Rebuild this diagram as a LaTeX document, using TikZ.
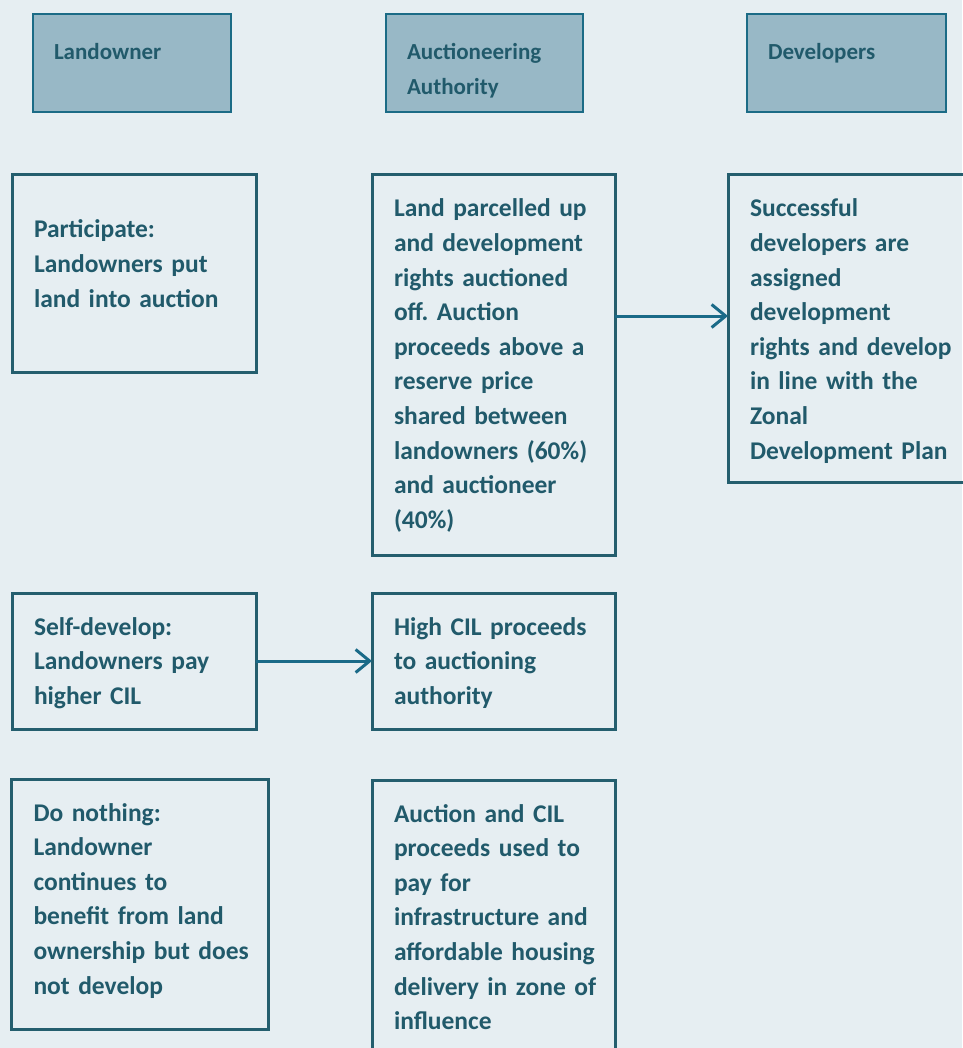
\documentclass[tikz,border=0pt]{standalone}
\usepackage{fontspec}
\setmainfont{Carlito}
\usepackage{xcolor}
\usetikzlibrary{arrows.meta}

\definecolor{bgblue}{HTML}{E6EEF2}
\definecolor{headfill}{HTML}{98B8C6}
\definecolor{headline}{HTML}{1B6B86}
\definecolor{boxline}{HTML}{245E6E}
\definecolor{textteal}{HTML}{215A6B}
\definecolor{arrowblue}{HTML}{1A6A88}

\newcommand\headfont{\fontsize{23}{35}\selectfont\bfseries}
\newcommand\cardfont{\fontsize{25.5}{34.6}\selectfont\bfseries\frenchspacing}
% lines kept as typed, no rewrapping
\newcommand\cardlines[1]{\begin{tabular}[t]{@{}l@{}}#1\end{tabular}}

\begin{document}
\begin{tikzpicture}[x=1pt, y=-1pt,
    head/.style={draw=headline, fill=headfill, line width=2pt, anchor=north west, outer sep=0pt,
        inner xsep=21pt, inner ysep=0pt, text height=46pt, text depth=52pt,
        align=left, text=textteal, font=\headfont},
    card/.style={draw=boxline, line width=3pt, anchor=north west, outer sep=0pt,
        inner xsep=22pt, inner ysep=0pt, text height=42pt, align=left, text=textteal,
        font=\cardfont},
    flow/.style={-{Straight Barb[length=14pt, width=23pt, line width=3pt]}, line width=3pt, draw=arrowblue}]
    % page and background
    \useasboundingbox (0,0) rectangle (962,1048);
    \fill[bgblue] (0,0) rectangle (962,1048);

    % column headers
    \node[head, text width=156pt] (landowner) at (33,14) {Landowner};
    \node[head, text width=155pt] (authority) at (386,14) {Auctioneering\\Authority};
    \node[head, text width=157pt] (developers) at (747,14) {Developers};

    % auction route
    \node[card, text width=200pt, text height=63pt, text depth=134pt] (participate) at (12,175)
        {\cardlines{Participate:\\Landowners put\\land into auction}};
    \node[card, text width=199pt, text depth=338pt] (parcel) at (372,175)
        {\cardlines{Land parcelled up\\and development\\rights auctioned\\off. Auction\\proceeds above a\\reserve price\\shared between\\landowners (60\%)\\and auctioneer\\(40\%)}};
    \node[card, text width=210pt, text depth=265pt] (successful) at (728,175)
        {\cardlines{Successful\\developers are\\assigned\\development\\rights and develop\\in line with the\\Zonal\\Development Plan}};

    % self-develop route
    \node[card, text width=200pt, text depth=94pt] (selfdev) at (12,593)
        {\cardlines{Self-develop:\\Landowners pay\\higher CIL}};
    \node[card, text width=199pt, text depth=94pt] (highcil) at (372,593)
        {\cardlines{High CIL proceeds\\to auctioning\\authority}};

    % no development / use of proceeds
    \node[card, text width=212pt, text depth=208pt, inner xsep=22.5pt] (nothing) at (11,779)
        {\cardlines{Do nothing:\\Landowner\\continues to\\benefit from land\\ownership but does\\not develop}};
    \node[card, text width=199pt, text depth=234pt] (proceeds) at (372,780)
        {\cardlines{Auction and CIL\\proceeds used to\\pay for\\infrastructure and\\affordable housing\\delivery in zone of\\influence}};

    % arrows
    \coordinate (pout) at ([yshift=-141pt]parcel.north east);
    \draw[flow] (pout) -- (pout -| successful.west);
    \draw[flow] (selfdev.east) -- (highcil.west);
\end{tikzpicture}
\end{document}
